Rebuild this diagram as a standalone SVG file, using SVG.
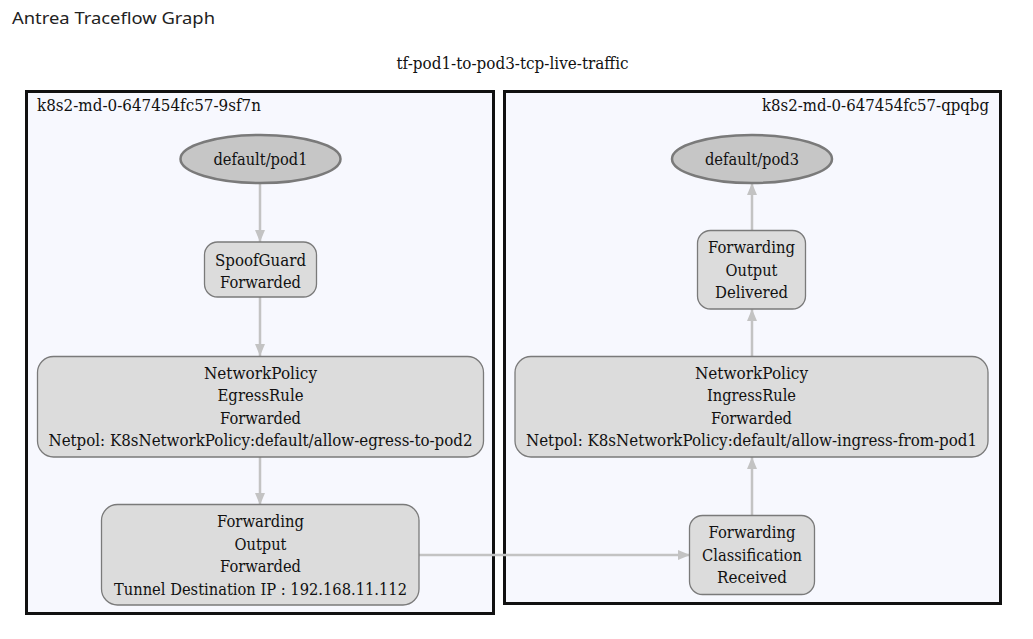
<svg xmlns="http://www.w3.org/2000/svg" width="1033" height="639" viewBox="0 0 1033 639">
<style>
.t{font-family:'DejaVu Serif',serif;font-size:16px;fill:#111;text-anchor:middle}
.cl{fill:#f7f8fe;stroke:#111;stroke-width:3}
.box{fill:#dcdcdc;stroke:#7a7a7a;stroke-width:1.3}
.pod{fill:#c6c6c6;stroke:#7a7a7a;stroke-width:2.5}
.e{stroke:#c3c3c3;stroke-width:2.5;fill:none;marker-end:url(#a)}
</style>
<defs>
<marker id="a" markerWidth="12" markerHeight="10" refX="12" refY="5" orient="auto" markerUnits="userSpaceOnUse">
<path d="M0,0 L12,5 L0,10 Z" fill="#c3c3c3"/>
</marker>
</defs>
<rect width="1033" height="639" fill="#fff"/>
<text x="12" y="24" font-family="Noto Sans, sans-serif" font-size="17" fill="#222" textLength="203" lengthAdjust="spacingAndGlyphs">Antrea Traceflow Graph</text>
<text class="t" x="512.5" y="69" textLength="232" lengthAdjust="spacingAndGlyphs">tf-pod1-to-pod3-tcp-live-traffic</text>
<g id="cluster-left">
<rect class="cl" x="26.5" y="91.5" width="467" height="522"/>
<text class="t" x="37" y="111" style="text-anchor:start" textLength="224" lengthAdjust="spacingAndGlyphs">k8s2-md-0-647454fc57-9sf7n</text>
</g>
<g id="cluster-right">
<rect class="cl" x="504.5" y="91.5" width="496" height="512"/>
<text class="t" x="989" y="111" style="text-anchor:end" textLength="227" lengthAdjust="spacingAndGlyphs">k8s2-md-0-647454fc57-qpqbg</text>
</g>
<g id="connectors">
<line class="e" x1="260" y1="183" x2="260" y2="242"/>
<line class="e" x1="260" y1="297" x2="260" y2="356"/>
<line class="e" x1="260" y1="457" x2="260" y2="505"/>
<line class="e" x1="419" y1="555" x2="690" y2="555"/>
<line class="e" x1="752" y1="516" x2="752" y2="457"/>
<line class="e" x1="752" y1="356" x2="752" y2="309"/>
<line class="e" x1="752" y1="230" x2="752" y2="183"/>
</g>
<g id="pod1">
<ellipse class="pod" cx="260.5" cy="159" rx="80" ry="24"/>
<text class="t" x="260.5" y="165" textLength="94" lengthAdjust="spacingAndGlyphs">default/pod1</text>
</g>
<g id="spoofguard">
<rect class="box" x="204.5" y="242" width="112" height="55" rx="13"/>
<text class="t" x="260.5" y="266" textLength="91" lengthAdjust="spacingAndGlyphs">SpoofGuard</text>
<text class="t" x="260.5" y="288" textLength="81" lengthAdjust="spacingAndGlyphs">Forwarded</text>
</g>
<g id="egress">
<rect class="box" x="37.5" y="356.5" width="446" height="100.5" rx="16"/>
<text class="t" x="260.5" y="379" textLength="113" lengthAdjust="spacingAndGlyphs">NetworkPolicy</text>
<text class="t" x="260.5" y="401" textLength="86" lengthAdjust="spacingAndGlyphs">EgressRule</text>
<text class="t" x="260.5" y="424" textLength="81" lengthAdjust="spacingAndGlyphs">Forwarded</text>
<text class="t" x="260.5" y="446" textLength="424" lengthAdjust="spacingAndGlyphs">Netpol: K8sNetworkPolicy:default/allow-egress-to-pod2</text>
</g>
<g id="fwd-output">
<rect class="box" x="101.5" y="504.5" width="317.5" height="100.5" rx="16"/>
<text class="t" x="260.5" y="527" textLength="87" lengthAdjust="spacingAndGlyphs">Forwarding</text>
<text class="t" x="260.5" y="549.5" textLength="52" lengthAdjust="spacingAndGlyphs">Output</text>
<text class="t" x="260.5" y="572" textLength="81" lengthAdjust="spacingAndGlyphs">Forwarded</text>
<text class="t" x="260.5" y="594.5" textLength="293" lengthAdjust="spacingAndGlyphs">Tunnel Destination IP : 192.168.11.112</text>
</g>
<g id="pod3">
<ellipse class="pod" cx="752" cy="159" rx="80" ry="24"/>
<text class="t" x="752" y="165" textLength="94" lengthAdjust="spacingAndGlyphs">default/pod3</text>
</g>
<g id="fwd-delivered">
<rect class="box" x="697.5" y="230.5" width="108" height="78.5" rx="13"/>
<text class="t" x="751.5" y="253" textLength="87" lengthAdjust="spacingAndGlyphs">Forwarding</text>
<text class="t" x="751.5" y="275.5" textLength="52" lengthAdjust="spacingAndGlyphs">Output</text>
<text class="t" x="751.5" y="298" textLength="73" lengthAdjust="spacingAndGlyphs">Delivered</text>
</g>
<g id="ingress">
<rect class="box" x="515" y="356.5" width="473" height="100.5" rx="16"/>
<text class="t" x="751.5" y="379" textLength="113" lengthAdjust="spacingAndGlyphs">NetworkPolicy</text>
<text class="t" x="751.5" y="401" textLength="89" lengthAdjust="spacingAndGlyphs">IngressRule</text>
<text class="t" x="751.5" y="424" textLength="81" lengthAdjust="spacingAndGlyphs">Forwarded</text>
<text class="t" x="751.5" y="446" textLength="451" lengthAdjust="spacingAndGlyphs">Netpol: K8sNetworkPolicy:default/allow-ingress-from-pod1</text>
</g>
<g id="fwd-classification">
<rect class="box" x="689.5" y="515.5" width="125" height="79" rx="13"/>
<text class="t" x="752" y="538" textLength="87" lengthAdjust="spacingAndGlyphs">Forwarding</text>
<text class="t" x="752" y="560.5" textLength="100" lengthAdjust="spacingAndGlyphs">Classification</text>
<text class="t" x="752" y="583" textLength="70" lengthAdjust="spacingAndGlyphs">Received</text>
</g>
</svg>
